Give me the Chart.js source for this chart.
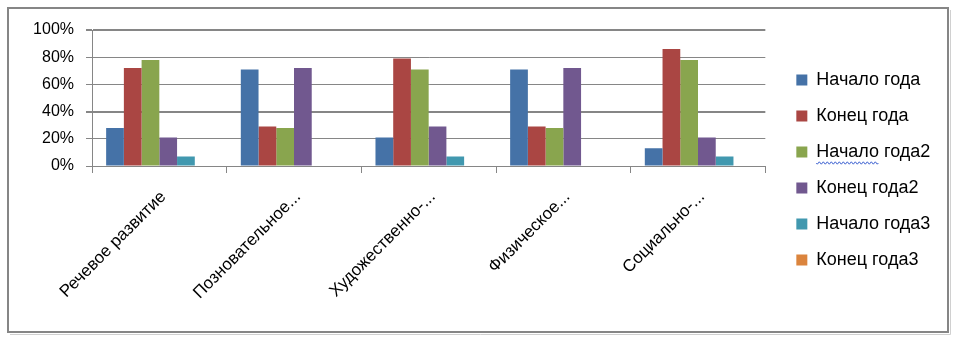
<!DOCTYPE html>
<html lang="ru">
<head>
<meta charset="utf-8">
<script src="https://cdn.jsdelivr.net/npm/chart.js@4/dist/chart.umd.min.js"></script>
<style>
  html, body { margin: 0; padding: 0; background: #fff; }
  #wrap { width: 957px; height: 342px; position: relative; }
</style>
</head>
<body>
<div id="wrap"><canvas id="chart"></canvas></div>
<script>
// Категории (подписи оси X)
const categories = [
  'Речевое развитие',
  'Позновательное...',
  'Художественно-...',
  'Физическое...',
  'Социально-...'
];

// Значения рядов, %
const nachaloGoda   = [28, 71, 21, 71, 13];
const konecGoda     = [72, 29, 79, 29, 86];
const nachaloGoda2  = [78, 28, 71, 28, 78];
const konecGoda2    = [21, 72, 29, 72, 21];
const nachaloGoda3  = [7, 0, 7, 0, 7];
const konecGoda3    = [0, 0, 0, 0, 0];

// Подписи оси Y
const yTicks = [0, 20, 40, 60, 80, 100];

const seriesNames  = ['Начало года', 'Конец года', 'Начало года2', 'Конец года2', 'Начало года3', 'Конец года3'];
const seriesValues = [nachaloGoda, konecGoda, nachaloGoda2, konecGoda2, nachaloGoda3, konecGoda3];
const seriesColors = ['#4572A7', '#AA4643', '#89A54E', '#71588F', '#4198AF', '#DB843D'];

const FONT = '"Liberation Sans", Arial, sans-serif';
const AXIS_GRAY = '#868686';

Chart.defaults.font.family = FONT;
Chart.defaults.color = '#000';

// Рамка вокруг диаграммы
const framePlugin = {
  id: 'frame',
  beforeDraw(chart) {
    const ctx = chart.ctx;
    ctx.save();
    ctx.fillStyle = '#fff';
    ctx.fillRect(0, 0, chart.width, chart.height);
    ctx.strokeStyle = '#d0d0d0';
    ctx.lineWidth = 1;
    ctx.beginPath();
    ctx.moveTo(950.5, 10);
    ctx.lineTo(950.5, 334.5);
    ctx.lineTo(10, 334.5);
    ctx.stroke();
    ctx.strokeStyle = AXIS_GRAY;
    ctx.lineWidth = 2;
    ctx.strokeRect(8, 8, 940, 324);
    ctx.restore();
  }
};

// Волнистое подчёркивание слова «Начало» в третьем пункте легенды
const squigglePlugin = {
  id: 'squiggle',
  afterDraw(chart) {
    const legend = chart.legend;
    if (!legend || !legend.legendHitBoxes || !legend.legendHitBoxes[2]) return;
    const hb = legend.legendHitBoxes[2];
    const labels = legend.options.labels;
    const size = labels.font.size;
    const ctx = chart.ctx;
    ctx.save();
    ctx.font = size + 'px ' + FONT;
    const x0 = hb.left + labels.boxWidth + size / 2;
    const w = ctx.measureText('Начало').width;
    const y = hb.top + hb.height / 2 + 11;
    ctx.strokeStyle = '#3a5fd0';
    ctx.lineWidth = 1;
    ctx.beginPath();
    for (let x = 0; x <= w; x += 1) {
      const yy = y + Math.sin(x * Math.PI / 2) * 1.2;
      if (x === 0) ctx.moveTo(x0 + x, yy); else ctx.lineTo(x0 + x, yy);
    }
    ctx.stroke();
    ctx.restore();
  }
};

const datasets = seriesNames.map((name, i) => ({
  label: name,
  data: seriesValues[i],
  backgroundColor: seriesColors[i],
  borderWidth: 0,
  yAxisID: 'y'
}));

new Chart(document.getElementById('chart'), {
  type: 'bar',
  data: { labels: categories, datasets },
  plugins: [framePlugin, squigglePlugin],
  options: {
    responsive: true,
    maintainAspectRatio: false,
    animation: false,
    layout: { padding: { left: 0, top: 30, right: 23, bottom: 32 } },
    datasets: { bar: { barPercentage: 1, categoryPercentage: 0.79 } },
    scales: {
      x: {
        grid: { drawOnChartArea: false, drawTicks: true, tickLength: 7, color: AXIS_GRAY, offset: true },
        border: { color: AXIS_GRAY, width: 1 },
        ticks: { minRotation: 45, maxRotation: 45, autoSkip: false, padding: 14, labelOffset: 4, font: { size: 17 } },
        afterFit(s) { s.height = 144; }
      },
      y: {
        min: 0, max: 100,
        afterBuildTicks(s) { s.ticks = yTicks.map(v => ({ value: v })); },
        grid: {
          color: AXIS_GRAY,
          tickLength: 6,
          lineWidth: c => (c.tick && (c.tick.value === 100 || c.tick.value === 40)) ? 2 : 1
        },
        border: { color: AXIS_GRAY, width: 1 },
        ticks: { padding: 12, font: { size: 16 }, callback: v => v + '%' },
        afterFit(s) { s.width = 92; }
      },
      spacer: {
        type: 'linear',
        position: 'right',
        display: true,
        grid: { display: false },
        ticks: { display: false },
        border: { display: false },
        afterFit(s) { s.width = 13; }
      }
    },
    plugins: {
      legend: {
        position: 'right',
        align: 'center',
        labels: { boxWidth: 11, boxHeight: 11, padding: 18, font: { size: 18 }, color: '#000' }
      },
      tooltip: { enabled: false }
    }
  }
});
</script>
</body>
</html>
